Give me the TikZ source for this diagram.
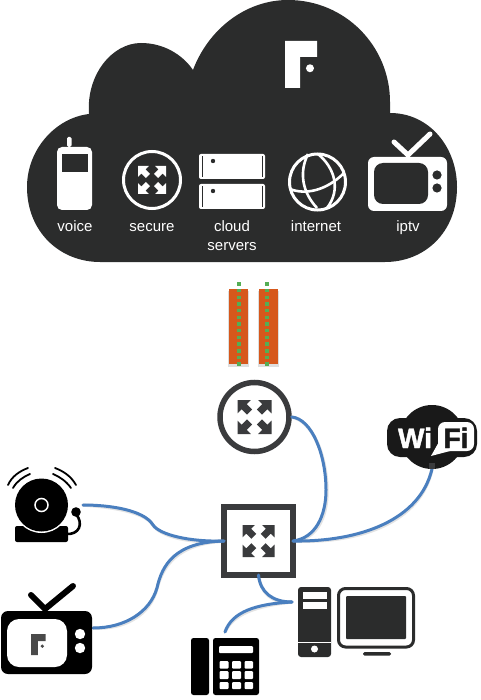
\documentclass[tikz,border=0pt]{standalone}
\usepackage{fontspec}
\setmainfont{Liberation Sans}
\newfontfamily\wifont[BoldFeatures={FakeBold=1.6}]{Liberation Sans}
\definecolor{cloudc}{HTML}{2B2C2C}
\definecolor{iconc}{HTML}{3A3B3D}
\definecolor{linkc}{HTML}{4A7FBF}
\definecolor{barc}{HTML}{D6581C}
\definecolor{dotc}{HTML}{55AE55}
\definecolor{logoc}{HTML}{4A4A4A}
\tikzset{
  lbl/.style={text=white,inner sep=0pt,anchor=base,font=\fontsize{15}{17}\selectfont},
  box/.style={inner sep=0pt,outer sep=0pt,rectangle},
  link/.style={draw=linkc,line width=3pt,line cap=round},
  linkshadow/.style={draw=black!55,opacity=.2,line width=3.4pt,line cap=round,shift={(1pt,-1.8pt)}},
  antenna/.style={line width=#1,line cap=round,line join=round},
  globeline/.style={draw=white,line width=2.6pt}
}
% centre x, y, half size, colour
\newcommand{\xarrows}[4]{%
  \foreach \r in {0,90,180,270}{
    \begin{scope}[shift={(#1,#2)},rotate=\r,scale=#3]
      \fill[#4] (1,1) -- (.22,1) -- (.46,.76) -- (.14,.44) -- (.44,.14) -- (.76,.46) -- (1,.22) -- cycle;
    \end{scope}}}
% F logo: left, top, width, height, colour
\newcommand{\flogo}[5]{%
  \begin{scope}[shift={(#1,#2)},xscale=#3,yscale=#4]
    \fill[#5] (0,0) -- (1,0) -- (1,.34) -- (.47,.34) -- (.47,1) -- (0,1) -- cycle;
    \fill[#5] (.78,.58) ellipse ({.125} and {.085});
  \end{scope}}
\begin{document}
\begin{tikzpicture}[x=1pt,y=-1pt]
\useasboundingbox (0,0) rectangle (480,700);
% ---------- cloud
\fill[cloudc] (89,114) .. controls (86,75) and (112,43) .. (141,43)
  .. controls (163,43) and (182,54) .. (193,70)
  .. controls (208,30) and (245,0) .. (288,0)
  .. controls (345,0) and (390,46) .. (390,102) -- (390,113)
  .. controls (430,113) and (457,148) .. (457,187)
  .. controls (457,232) and (425,262) .. (385,262)
  -- (100,262) .. controls (60,262) and (27,232) .. (27,187)
  .. controls (27,150) and (55,118) .. (89,114) -- cycle;
\flogo{285}{41}{32}{47}{white}
% voice
\fill[white,rounded corners=1.5pt] (67,147) rectangle (71.5,137);
\fill[white,rounded corners=5pt] (57,147) rectangle (92,210);
\fill[cloudc] (62,154) rectangle (88,172);
\node[lbl] (voice) at (75,232) {voice};
% secure
\node[circle,draw=white,line width=3pt,fill=none,minimum size=57pt,inner sep=0pt] (secure) at (152,180) {};
\xarrows{152}{180}{14}{white}
\node[lbl] (securet) at (152,232) {secure};
% cloud servers
\foreach \yy in {154,184}{
  \fill[white,rounded corners=2pt] (199,\yy) rectangle (265,\yy+25);
  \fill[cloudc] (201.5,\yy+2) rectangle (203,\yy+23);
  \fill[cloudc] (261.5,\yy+2) rectangle (263,\yy+23);
  \fill[cloudc] (213,\yy+7) circle (2.2);
}
\node[lbl] (cloudt) at (232,232) {cloud};
\node[lbl] (serverst) at (232,250.5) {servers};
% internet
\node[circle,draw=white,line width=3pt,minimum size=56pt,inner sep=0pt] (globe) at (317.5,182) {};
\draw[globeline] (308,154) .. controls (299,172) and (302,192) .. (317,208);
\draw[globeline] (318,154) .. controls (335,168) and (341,190) .. (327,208);
\draw[globeline] (290,189) .. controls (305,195) and (326,191) .. (344,173);
\node[lbl] (internett) at (316,232) {internet};
% iptv
\draw[white,antenna=5pt] (394,142) -- (408,155) -- (430,134);
\fill[white,rounded corners=6pt] (368,157) rectangle (447,211);
\fill[cloudc,rounded corners=9pt] (374,163) rectangle (428,204);
\fill[cloudc] (437,175) circle (4.6);
\fill[cloudc] (437,188) circle (4.6);
\node[lbl] (iptvt) at (408,232) {iptv};
% ---------- orange bars
\foreach \xa/\xb/\xc in {229/248/238.7,258.5/277.5/266.7}{
  \fill[black,opacity=.13] (\xa-1,291) rectangle (\xb+1,367);
  \fill[barc] (\xa,289) rectangle (\xb,364);
  \foreach \k in {0,...,12}{
    \fill[dotc] (\xc-1.8,284+\k*6.67-1.8) rectangle (\xc+1.8,284+\k*6.67+1.8);
  }
}
% ---------- anchor nodes for the devices
\node[circle,draw=iconc,line width=5.5pt,minimum size=69pt,inner sep=0pt,fill=white] (router) at (254.5,417) {};
\node[box,draw=iconc,line width=6pt,minimum width=69pt,minimum height=68pt,fill=white] (square) at (258.5,541) {};
\node[box,minimum width=90pt,minimum height=64pt] (wifi) at (432,437) {};
\coordinate (bellport) at (83,505);
\coordinate (tvport) at (93,628);
\coordinate (phoneport) at (225,632);
\coordinate (bellmid) at (153,525);
\coordinate (tvmid) at (157,588);
\coordinate (pcjoin) at (292,602);
% ---------- connectors
\begin{scope}[transparency group]
\foreach \st in {linkshadow,link}{
  \path[\st] (router.east) .. controls (312,419) and (326,455) .. (326,490)
     .. controls (326,515) and (316,538) .. (square.east);
  \path[\st] (square.east) .. controls (360,542) and (420,520) .. (wifi.south);
  \path[\st] (bellport) .. controls (110,505) and (144,510) .. (bellmid)
     .. controls (160,535) and (190,542) .. (square.west);
  \path[\st] (tvport) .. controls (125,628) and (150,612) .. (tvmid)
     .. controls (162,565) and (175,542) .. (square.west);
  \path[\st] (square.south) .. controls (260,592) and (272,602) .. (pcjoin);
  \path[\st] (phoneport) .. controls (232,612) and (255,604) .. (pcjoin);
}
\end{scope}
% ---------- router arrows
\xarrows{254.5}{417}{17}{iconc}
\xarrows{258.5}{541}{16}{iconc}
% ---------- wifi
\fill[black!90] (432,437) circle (32);
\fill[black!90,rounded corners=13pt] (387,418) rectangle (477,457);
\fill[white,rounded corners=7pt] (438,422) rectangle (474,451);
\fill[white] (440,440) -- (431,456) -- (450,451) -- cycle;
\node[inner sep=0pt,anchor=base,text=white,font=\fontsize{28}{30}\wifont\bfseries\selectfont] (witext) at (415,448) {Wi};
\node[inner sep=0pt,anchor=base,text=black!90,font=\fontsize{28}{30}\wifont\bfseries\selectfont] (fitext) at (456,448) {Fi};
\fill[iconc] (429,463) rectangle (435,469);
% ---------- bell
\draw[black,line width=1.8pt,line cap=round] (8,485) .. controls (12,476) and (20,471) .. (28,468);
\draw[black,line width=1.8pt,line cap=round] (13,488) .. controls (17,481) and (23,477) .. (30,474);
\draw[black,line width=1.8pt,line cap=round] (55,468) .. controls (63,471) and (71,476) .. (76,485);
\draw[black,line width=1.8pt,line cap=round] (53,474) .. controls (60,477) and (66,481) .. (71,488);
\fill[black,rounded corners=2pt] (15,526) rectangle (68,542);
\fill[white] (41.5,505) circle (28);
\fill[black] (41.5,505) circle (26.5);
\draw[white,line width=1.5pt,fill=black] (41.5,505) circle (6.5);
\fill[black] (76,512) circle (4.8);
\draw[black,line width=2.6pt] (76,514) .. controls (84,524) and (79,535) .. (66,534);
% ---------- tv
\draw[black,antenna=6pt] (31,595) -- (45,609) -- (73,586);
\fill[black,rounded corners=7pt] (1,611) rectangle (92,674);
\fill[white,rounded corners=12pt] (7,619) rectangle (67,667);
\fill[white] (80,634) circle (5.2);
\fill[white] (80,648) circle (5.2);
\flogo{31}{634}{14.5}{21}{logoc}
% ---------- desk phone
\fill[black,rounded corners=2.5pt] (191,638) rectangle (209,695);
\fill[black,rounded corners=2.5pt] (213,638) rectangle (259,695);
\fill[white,rounded corners=1pt] (219,646) rectangle (253,653);
\foreach \xa/\xb in {219.5/228.5,232/241,244.5/253}{
  \foreach \ya/\yb in {661/668.5,671/679,682/689}{
    \fill[white,rounded corners=1pt] (\xa,\ya) rectangle (\xb,\yb);
  }
}
% ---------- computer
\fill[cloudc,rounded corners=3pt] (298,587) rectangle (331,657);
\fill[white] (302.5,592) rectangle (327,598.5);
\fill[white] (302.5,602) rectangle (327,609);
\fill[white] (298,641.5) rectangle (331,643);
\fill[white] (314.5,649) circle (3.5);
\draw[cloudc,line width=3pt,fill=white,rounded corners=7pt] (338.5,588.5) rectangle (413.5,647);
\fill[cloudc,rounded corners=1pt] (346,596) rectangle (406,639);
\fill[cloudc,rounded corners=1.5pt] (363,652) rectangle (391,655.5);
\end{tikzpicture}
\end{document}
